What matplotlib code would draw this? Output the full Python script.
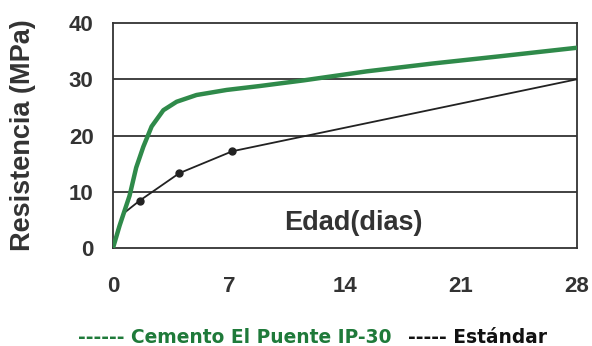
import numpy as np
import matplotlib
matplotlib.use('Agg')
import matplotlib.pyplot as plt

# Data
dias_ip30 = [0, 0.4, 1.0, 1.4, 1.83, 2.33, 3.04, 3.84, 5.04, 6.86, 8.87, 11.5, 15.3, 19.3, 23.4, 28]
res_ip30 = [0, 4.0, 9.3, 14.3, 18.0, 21.6, 24.5, 26.0, 27.2, 28.1, 28.8, 29.8, 31.4, 32.8, 34.1, 35.6]

dias_std = [0, 0.3, 0.7, 1.6, 4.0, 7.2, 28]
res_std = [0, 3.5, 6.3, 8.4, 13.3, 17.2, 30]
marcas_std = [3, 4, 5]

xticks = [0, 7, 14, 21, 28]
yticks = [0, 10, 20, 30, 40]

green = '#2f8a4a'
dark = '#333333'

fig = plt.figure(figsize=(5.92, 3.46), dpi=100)
ax = fig.add_axes([113 / 592, 1 - 248 / 346, 464 / 592, 225 / 346])

for y in yticks[1:-1]:
    ax.axhline(y, color=dark, lw=1.3, zorder=1)

ax.plot(dias_std, res_std, color='#222222', lw=1.3, marker='o', markersize=5,
        markevery=marcas_std, zorder=3)
ax.plot(dias_ip30, res_ip30, color=green, lw=3.2, solid_capstyle='round', zorder=4)

ax.set_xlim(0, 28)
ax.set_ylim(0, 40)
ax.set_xticks(xticks)
ax.set_yticks(yticks)
ax.tick_params(length=0, labelsize=16, labelcolor=dark)
ax.tick_params(axis='x', pad=20)
ax.tick_params(axis='y', pad=14)
for lab in ax.get_xticklabels() + ax.get_yticklabels():
    lab.set_fontfamily('Liberation Sans')
    lab.set_fontweight('bold')
for s in ax.spines.values():
    s.set_color(dark)
    s.set_linewidth(1.3)

fig.text(23 / 592, 1 - 135 / 346, 'Resistencia (MPa)', rotation=90, fontsize=19.5,
         fontweight='bold', color=dark, family='Liberation Sans',
         ha='center', va='center')

ax.text(14.5, 4.4, 'Edad(dias)', fontsize=19.5, fontweight='bold', color=dark,
        family='Liberation Sans', ha='center', va='center')

fig.text(78 / 592, 1 - 343 / 346, '------ Cemento El Puente IP-30', color='#1f7a3a',
         fontsize=13.4, fontweight='bold', family='DejaVu Sans', va='baseline', ha='left')
fig.text(408 / 592, 1 - 343 / 346, '----- Estándar', color='#111111',
         fontsize=13.4, fontweight='bold', family='DejaVu Sans', va='baseline', ha='left')

fig.savefig('out.png', dpi=100)
